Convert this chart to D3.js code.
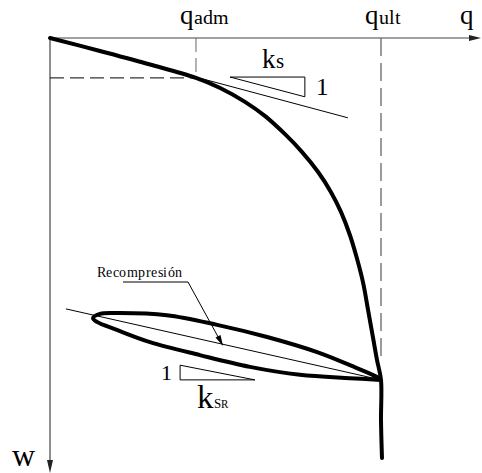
<!DOCTYPE html>
<html><head><meta charset="utf-8">
<script src="https://cdn.jsdelivr.net/npm/d3@7"></script>
<style>
@font-face { font-family: "RefSerif"; src: local("Liberation Serif"), local("LiberationSerif"), local("Times New Roman"); }
</style>
</head><body style="margin:0">
<script>
// ---- data (q: load, w: settlement) ----
const qAdm = 44.1, qUlt = 100, wAdm = 9.5, wUlt = 81.4;
const loadCurveQ = [0, 15.1, 30.2, 44.1, 51.4, 58.9, 65.0, 71.0, 76.1, 81.0, 84.9, 87.9, 90.6, 92.7, 94.6, 96.1, 97.6, 98.8, 100, 100, 100.3];
const loadCurveW = [0, 3.1, 6.3, 9.5, 11.9, 15.2, 18.6, 22.9, 27.1, 31.9, 36.7, 41.4, 46.9, 52.4, 58.3, 64.8, 71.4, 76.7, 81.4, 91, 100];
const loopQ = [100, 98.8, 90.6, 80.7, 65.6, 50.5, 35.3, 20.2, 15.1, 13, 14.2, 20.2, 30.2, 45.3, 60.4, 75.5, 90.6, 100];
const loopW = [81.4, 80.7, 77.9, 74.8, 71.2, 68.3, 66, 65.5, 65.7, 66.7, 67.6, 69.5, 72.4, 75.5, 78.3, 80.2, 81, 81.4];
const ksLineQ = [0, 90], ksLineW = [0, 19];
const ksrLineQ = [4.8, 100], ksrLineW = [64.5, 81.4];
const ksTriQ = [54.4, 77.0, 77.0, 54.4], ksTriW = [9.3, 9.3, 14.0, 9.3];
const ksrTriQ = [39.3, 39.3, 61.9, 39.3], ksrTriW = [77.9, 81.4, 81.4, 77.9];
const xLabels = [{q: qAdm, main: "q", sub: "adm"}, {q: qUlt, main: "q", sub: "ult"}];

const FONT = "RefSerif, 'Liberation Serif', serif";
const W = 482, H = 473;
const x = d3.scaleLinear().domain([0, 100]).range([50, 381]);
const y = d3.scaleLinear().domain([0, 100]).range([38, 458]);
const svg = d3.select("body").append("svg").attr("width", W).attr("height", H);
const line = d3.line().x(d => x(d[0])).y(d => y(d[1]));
const zip = (a, b) => a.map((v, i) => [v, b[i]]);

// axes
const axisCol = "#444";
svg.append("line").attr("x1", x(0)).attr("y1", y(0)).attr("x2", W - 8).attr("y2", y(0)).attr("stroke", axisCol).attr("stroke-width", 1.2);
svg.append("path").attr("d", `M${W-1},${y(0)} L${W-13},${y(0)-3} L${W-13},${y(0)+3}Z`).attr("fill", "#222");
svg.append("line").attr("x1", x(0)).attr("y1", y(0)).attr("x2", x(0)).attr("y2", H - 8).attr("stroke", axisCol).attr("stroke-width", 1.2);
svg.append("path").attr("d", `M${x(0)},${H} L${x(0)-3},${H-13} L${x(0)+3},${H-13}Z`).attr("fill", "#222");

// dashed guides
const dashCol = "#666";
svg.append("path").attr("d", line([[qAdm, 0], [qAdm, wAdm]])).attr("stroke", dashCol).attr("stroke-dasharray", "14,6").attr("fill", "none");
svg.append("path").attr("d", line([[0, wAdm], [qAdm, wAdm]])).attr("stroke", "#000").attr("stroke-dasharray", "14,6").attr("fill", "none");
svg.append("path").attr("d", line([[qUlt, 0], [qUlt, wUlt - 4]])).attr("stroke", dashCol).attr("stroke-width", 1.3).attr("stroke-dasharray", "18,7").attr("fill", "none");

// thin lines
[[ksLineQ, ksLineW], [ksrLineQ, ksrLineW], [ksTriQ, ksTriW], [ksrTriQ, ksrTriW]].forEach(([a, b]) =>
  svg.append("path").attr("d", line(zip(a, b))).attr("stroke", "#000").attr("stroke-width", 1).attr("fill", "none"));

// main curve and loop
const smooth = d3.line().x(d => x(d[0])).y(d => y(d[1])).curve(d3.curveCatmullRom.alpha(0.5));
svg.append("path").attr("d", smooth(zip(loadCurveQ, loadCurveW))).attr("stroke", "#000").attr("stroke-width", 4).attr("fill", "none").attr("stroke-linecap", "round");
svg.append("path").attr("d", smooth(zip(loopQ, loopW))).attr("stroke", "#000").attr("stroke-width", 4).attr("fill", "none").attr("stroke-linejoin", "round");

// labels
const txt = (px, py, size) => svg.append("text").attr("x", px).attr("y", py)
  .attr("font-size", size).style("font-family", FONT);
xLabels.forEach(l => {
  const t = txt(x(l.q) - 16, 24, 27);
  t.append("tspan").text(l.main);
  t.append("tspan").attr("font-size", 20).text(l.sub);
});
txt(460, 24, 27).text("q");
txt(12, 466, 32).text("w");

const ks = txt(262, 68, 27);
ks.append("tspan").text("k");
ks.append("tspan").attr("font-size", 21).text("s");
txt(316, 95, 25).text("1");

txt(161, 380, 22).text("1");
const ksr = txt(197, 408, 33);
ksr.append("tspan").text("k");
ksr.append("tspan").attr("font-size", 13).text("S");
ksr.append("tspan").attr("font-size", 11).text("R");

// Recompresión leader
txt(97, 277, 14).attr("textLength", 85).text("Recompresión");
svg.append("path").attr("d", "M123,282 L188,282 L222,344").attr("stroke", "#000").attr("stroke-width", 1).attr("fill", "none");
svg.append("path").attr("d", "M223,346 L215.5,337.5 L220.5,335Z").attr("fill", "#000");
</script></body></html>
